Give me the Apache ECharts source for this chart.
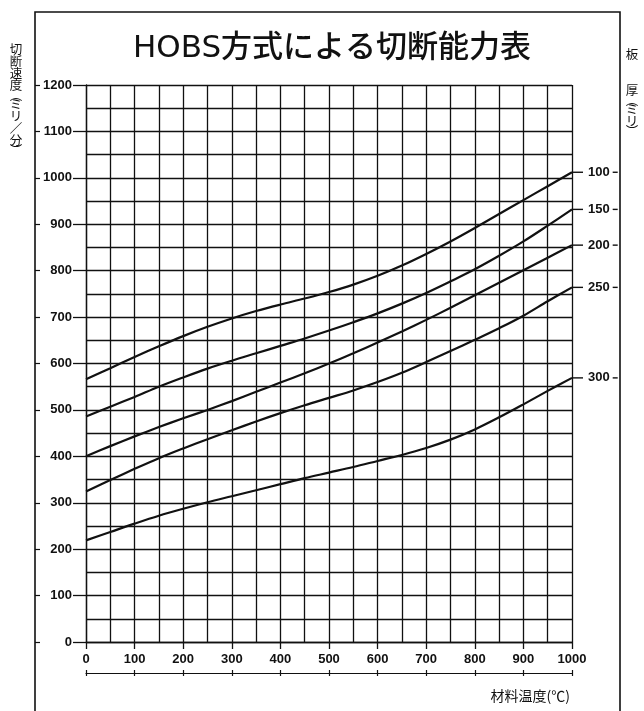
<!DOCTYPE html>
<html>
<head>
<meta charset="utf-8">
<script src="https://cdn.jsdelivr.net/npm/echarts@6/dist/echarts.min.js"></script>
<style>
html,body{margin:0;padding:0;background:#fff;}
#chart{width:644px;height:711px;}
</style>
</head>
<body>
<div id="chart"></div>
<script>
// Data
const titleText = 'HOBS方式による切断能力表';
const temps = [0,50,100,150,200,250,300,350,400,450,500,550,600,650,700,750,800,850,900,950,1000];
const thicknessNames = ['100','150','200','250','300'];
const t100 = [566,590,614,637,659,679,697,713,727,740,754,770,789,811,836,863,892,922,952,982,1012];
const t150 = [486,507,528,550,570,589,606,622,638,654,671,689,708,729,752,777,803,832,863,897,932];
const t200 = [400,422,443,463,482,500,519,539,559,579,600,622,645,669,694,720,747,774,801,828,855];
const t250 = [324,349,373,396,417,437,456,475,493,510,526,542,560,580,603,627,651,676,703,734,764];
const t300 = [219,237,255,272,287,301,314,327,340,353,365,377,390,403,418,436,458,484,512,541,569];
const seriesValues = [t100, t150, t200, t250, t300];
const yNameChars = ['切','断','速','度','︵','ミ','リ','／','分','︶'];
const xName = '材料温度(℃)';
const rightName1 = '板';
const rightName2Chars = ['厚','︵','ミ','リ','︶'];

const INK = '#111';
const numFont = '"Liberation Sans", Arial, sans-serif';
const cjkFont = '"Noto Sans CJK JP", sans-serif';
const plain = v => String(v);
const vert = chars => chars.map(c => (c === '︵' || c === '︶') ? '{p|' + c + '}' : '{c|' + c + '}').join('\n');
const vertRich = {
  c: {fontFamily: cjkFont, fontSize: 12.5, lineHeight: 12, color: INK, align: 'center'},
  p: {fontFamily: cjkFont, fontSize: 12.5, lineHeight: 7.5, color: INK, align: 'center'}
};

const chart = echarts.init(document.getElementById('chart'), null, {renderer: 'canvas'});

const series = seriesValues.map((vals, i) => ({
  name: thicknessNames[i],
  type: 'line',
  smooth: 0.35,
  symbol: 'none',
  data: temps.map((t, j) => [t, vals[j]]),
  lineStyle: {color: INK, width: 2.2},
  itemStyle: {color: INK},
  emphasis: {disabled: true},
  endLabel: {
    show: true,
    distance: 0,
    formatter: '{l|}{t|{a}}{r|}',
    rich: {
      l: {width: 11, height: 1.4, backgroundColor: INK},
      t: {fontFamily: numFont, fontSize: 13, fontWeight: 'bold', color: INK, padding: [0, 3, 0, 5]},
      r: {width: 5, height: 1.4, backgroundColor: INK}
    }
  }
}));

const option = {
  animation: false,
  backgroundColor: '#fff',
  title: {
    text: titleText,
    left: 327,
    top: 28,
    textAlign: 'center',
    textStyle: {fontFamily: '"DejaVu Sans", "Noto Sans CJK JP", sans-serif', fontSize: 31, fontWeight: 500, color: INK}
  },
  grid: {left: 86, right: 72, top: 85, bottom: 69, containLabel: false},
  xAxis: [
    {
      type: 'value', min: 0, max: 1000, interval: 100,
      axisLine: {show: true, onZero: false, lineStyle: {color: INK, width: 1.3}},
      axisTick: {show: true, length: 7, lineStyle: {color: INK, width: 1.3}},
      axisLabel: {margin: 11, fontFamily: numFont, fontSize: 13, fontWeight: 'bold', color: INK, formatter: plain},
      splitLine: {show: true, lineStyle: {color: INK, width: 1.3}},
      minorTick: {show: false, splitNumber: 2},
      minorSplitLine: {show: true, lineStyle: {color: INK, width: 1.3}}
    },
    {
      type: 'value', min: 0, max: 1000, interval: 100, position: 'bottom', offset: 31,
      axisLine: {show: true, onZero: false, lineStyle: {color: INK, width: 1.2}},
      axisTick: {show: true, length: 3, lineStyle: {color: INK, width: 1.2}},
      axisLabel: {show: false},
      splitLine: {show: false}
    },
    {
      type: 'value', min: 0, max: 1000, interval: 100, position: 'bottom', offset: 31,
      axisLine: {show: false, onZero: false},
      axisTick: {show: true, inside: true, length: 3, lineStyle: {color: INK, width: 1.2}},
      axisLabel: {show: false},
      splitLine: {show: false}
    }
  ],
  yAxis: [
    {
      type: 'value', min: 0, max: 1200, interval: 100,
      axisLine: {show: true, onZero: false, lineStyle: {color: INK, width: 1.3}},
      axisTick: {show: true, length: 13, lineStyle: {color: INK, width: 1.3}},
      axisLabel: {margin: 14, fontFamily: numFont, fontSize: 13, fontWeight: 'bold', color: INK, formatter: plain},
      splitLine: {show: true, lineStyle: {color: INK, width: 1.3}},
      minorTick: {show: false, splitNumber: 2},
      minorSplitLine: {show: true, lineStyle: {color: INK, width: 1.3}}
    },
    {
      type: 'value', min: 0, max: 1200, interval: 100, position: 'left', offset: 51,
      axisLine: {show: false, onZero: false},
      axisTick: {show: true, inside: true, length: 5, lineStyle: {color: INK, width: 1.2}},
      axisLabel: {show: false},
      splitLine: {show: false}
    }
  ],
  graphic: [
    {type: 'polyline', shape: {points: [[35, 711], [35, 12], [620, 12], [620, 711]]},
     style: {stroke: INK, lineWidth: 1.6, fill: null}, silent: true},
    {type: 'text', x: 16, y: 43,
     style: {text: vert(yNameChars), rich: vertRich, fill: INK, align: 'center', verticalAlign: 'top'}},
    {type: 'text', x: 632, y: 48,
     style: {text: rightName1, fontFamily: cjkFont, fontSize: 12.5, lineHeight: 12, fill: INK, align: 'center', verticalAlign: 'top'}},
    {type: 'text', x: 632, y: 84,
     style: {text: vert(rightName2Chars), rich: vertRich, fill: INK, align: 'center', verticalAlign: 'top'}},
    {type: 'text', x: 570, y: 689,
     style: {text: xName, fontFamily: cjkFont, fontSize: 14, fill: INK, align: 'right', verticalAlign: 'top'}}
  ],
  series: series
};

chart.setOption(option);
</script>
</body>
</html>
